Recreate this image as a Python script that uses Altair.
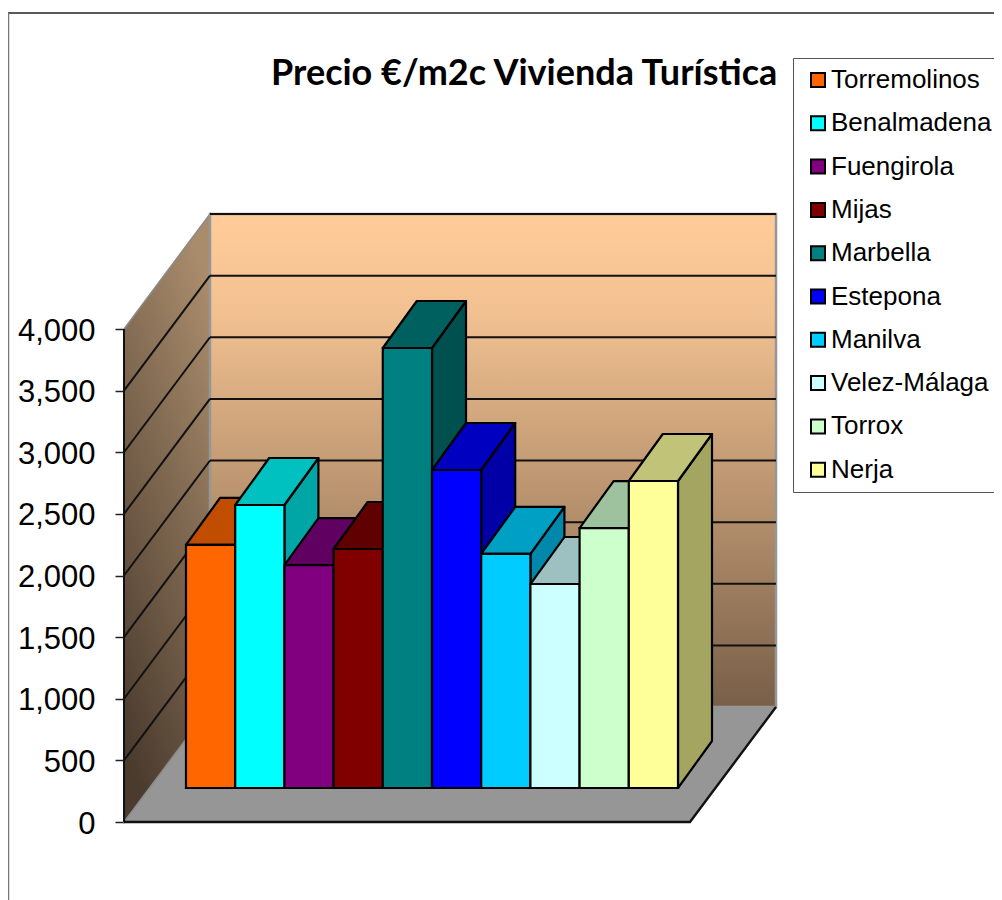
import altair as alt
import pandas as pd

names = ["Torremolinos", "Benalmadena", "Fuengirola", "Mijas", "Marbella",
         "Estepona", "Manilva", "Velez-Málaga", "Torrox", "Nerja"]
values = [1972, 2296, 1809, 1939, 3570, 2580, 1899, 1655, 2109, 2491]
front_colors = ["#FF6600", "#00FFFF", "#800080", "#800000", "#008080",
                "#0000FF", "#00CCFF", "#CCFFFF", "#CCFFCC", "#FFFF99"]
top_colors = ["#C04D00", "#00C0C0", "#600060", "#600000", "#006060",
              "#0000C0", "#009FC4", "#9DC1C1", "#9DC29D", "#C1C478"]
side_colors = ["#A64200", "#00A6A6", "#530053", "#530000", "#005050",
               "#0000A6", "#0088AC", "#85A5A5", "#85A585", "#A5A562"]
ticks = [0, 500, 1000, 1500, 2000, 2500, 3000, 3500, 4000]
title_text = "Precio €/m2c Vivienda Turística"

# oblique projection
W, H = 652, 609
PX = 123.25 / 1000          # pixels per value unit
wall_dx, wall_dy = 86, 115 / PX
base_dx, base_dy = 62, 34 / PX
bar_w = 49.2
bar_dx, bar_dy = 34, 47 / PX
floor_w = 566
top_val = 4000

fronts, tops, sides = [], [], []
for i, (n, v) in enumerate(zip(names, values)):
    x0 = base_dx + i * bar_w
    x1 = x0 + bar_w
    y0 = base_dy
    y1 = base_dy + v
    fronts.append(dict(name=n, x=x0, x2=x1, y=y0, y2=y1))
    tops.append(dict(name=n, fill=top_colors[i], y=y1, x=x0, x2=x1))
    tops.append(dict(name=n, fill=top_colors[i], y=y1 + bar_dy, x=x0 + bar_dx, x2=x1 + bar_dx))
    sides.append(dict(name=n, fill=side_colors[i], x=x1, y=y0, y2=y1))
    sides.append(dict(name=n, fill=side_colors[i], x=x1 + bar_dx, y=y0 + bar_dy, y2=y1 + bar_dy))

xs = alt.Scale(domain=[0, W], range=[0, W], nice=False, zero=False)
ys = alt.Scale(domain=[0, H / PX], nice=False, zero=False)
X = lambda f="x": alt.X(f"{f}:Q", scale=xs, axis=None)
Y = lambda f="y": alt.Y(
    f"{f}:Q", scale=ys, stack=None, title=None,
    axis=alt.Axis(values=ticks, format=",.0f", grid=False, domain=False, tickSize=9,
                  tickWidth=1.5, tickColor="#222222", labelFontSize=31,
                  labelFont="Liberation Sans", labelColor="#000000", labelPadding=20,
                  labelOffset=2))

back_grad = alt.LinearGradient(gradient="linear", x1=0, x2=0, y1=0, y2=1, stops=[
    alt.GradientStop(color="#FFCC99", offset=0),
    alt.GradientStop(color="#F2C191", offset=0.2),
    alt.GradientStop(color="#785F48", offset=1)])
side_grad = alt.LinearGradient(gradient="linear", x1=0.7, x2=0.3, y1=0, y2=1, stops=[
    alt.GradientStop(color="#A98C6C", offset=0),
    alt.GradientStop(color="#4A3B2E", offset=1)])

# walls and floor
floor = alt.Chart(pd.DataFrame([
    dict(y=0, x=0, x2=floor_w),
    dict(y=wall_dy, x=wall_dx, x2=W)])).mark_area(
        orient="horizontal", fill="#969696", stroke="#969696", strokeWidth=1
    ).encode(y=Y(), x=X(), x2="x2:Q")
side_wall = alt.Chart(pd.DataFrame([
    dict(x=0, y=0, y2=top_val),
    dict(x=wall_dx, y=wall_dy, y2=top_val + wall_dy)])).mark_area(
        fill=side_grad, stroke="#8A8A8A", strokeWidth=1.5
    ).encode(x=X(), y=Y(), y2="y2:Q")
back_wall = alt.Chart(pd.DataFrame([
    dict(x=wall_dx, x2=W, y=wall_dy, y2=top_val + wall_dy)])).mark_rect(
        fill=back_grad, stroke="#969696", strokeWidth=2.5
    ).encode(x=X(), x2="x2:Q", y=Y(), y2="y2:Q")

grid_back = alt.Chart(pd.DataFrame(
    [dict(x=wall_dx, x2=W, y=t + wall_dy) for t in ticks[1:]])).mark_rule(
        color="#111111", strokeWidth=2).encode(x=X(), x2="x2:Q", y=Y())
grid_side = alt.Chart(pd.DataFrame(
    [dict(t=t, x=0, y=t) for t in ticks[1:-1]] +
    [dict(t=t, x=wall_dx, y=t + wall_dy) for t in ticks[1:-1]])).mark_line(
        color="#111111", strokeWidth=2).encode(x=X(), y=Y(), detail="t:N")
axis_line = alt.Chart(pd.DataFrame([dict(x=0, y=0, y2=top_val)])).mark_rule(
    color="#111111", strokeWidth=2).encode(x=X(), y=Y(), y2="y2:Q")
floor_edges = alt.Chart(pd.DataFrame([
    dict(x=0, y=0), dict(x=floor_w, y=0), dict(x=W, y=wall_dy)])).mark_line(
        color="#111111", strokeWidth=2.4).encode(x=X(), y=Y())

# bars
side_layer = alt.Chart(pd.DataFrame(sides)).mark_area(
    stroke="#000000", strokeWidth=2.2, strokeJoin="round"
).encode(x=X(), y=Y(), y2="y2:Q", fill=alt.Fill("fill:N", scale=None), detail="name:N")
top_layer = alt.Chart(pd.DataFrame(tops)).mark_area(
    orient="horizontal", stroke="#000000", strokeWidth=2.2, strokeJoin="round"
).encode(y=Y(), x=X(), x2="x2:Q", fill=alt.Fill("fill:N", scale=None), detail="name:N")
front_layer = alt.Chart(pd.DataFrame(fronts)).mark_rect(
    stroke="#000000", strokeWidth=2.2
).encode(
    x=X(), x2="x2:Q", y=Y(), y2="y2:Q",
    fill=alt.Fill("name:N", scale=alt.Scale(domain=names, range=front_colors),
                  legend=alt.Legend(
                      title=None, orient="none", legendX=669, legendY=-155,
                      padding=9, fillColor="#FFFFFF", strokeColor="#555555",
                      symbolType="square", symbolSize=196, symbolStrokeColor="#000000",
                      symbolStrokeWidth=2, symbolOpacity=1, symbolOffset=3,
                      labelFontSize=26, labelFont="Liberation Sans",
                      labelColor="#000000", labelLimit=400, labelOffset=0,
                      rowPadding=17.3, columnPadding=0, offset=0)))

# outer frame of the chart area
frame_top = alt.Chart(pd.DataFrame({"a": [0]})).mark_rule(color="#222222", strokeWidth=1.5).encode(
    x=alt.value(-116), x2=alt.value(W + 240), y=alt.value(-200))
frame_left = alt.Chart(pd.DataFrame({"a": [0]})).mark_rule(color="#777777", strokeWidth=1.5).encode(
    x=alt.value(-115.5), y=alt.value(-200), y2=alt.value(H + 90))
title_mark = alt.Chart(pd.DataFrame({"t": [title_text]})).mark_text(
    font="Lato", fontSize=36, fontWeight="bold", color="#000000",
    align="left", baseline="alphabetic"
).encode(text="t:N", x=alt.value(147), y=alt.value(-128))

chart = alt.layer(
    frame_top, frame_left, floor, side_wall, back_wall, grid_back, grid_side,
    axis_line, floor_edges, side_layer, top_layer, front_layer, title_mark
).properties(
    width=W, height=H,
    autosize="none",
    padding={"left": 116, "top": 205, "right": 218, "bottom": 78},
).configure_view(stroke=None)

chart.save("out.html", embed_options={"renderer": "svg", "actions": False})
